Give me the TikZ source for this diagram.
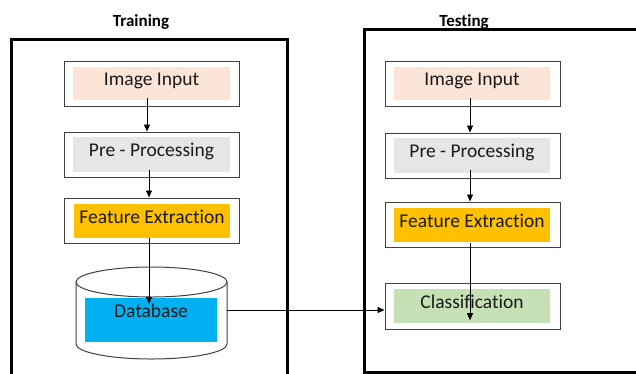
\documentclass[tikz,border=0pt]{standalone}
\usepackage{fontspec}
\setmainfont[Ligatures=NoCommon]{Carlito}
\usetikzlibrary{arrows.meta,calc}
\definecolor{peach}{HTML}{FBE5D6}
\definecolor{lgray}{HTML}{E7E6E6}
\definecolor{gold}{HTML}{FFC000}
\definecolor{skyb}{HTML}{00B0F0}
\definecolor{lgreen}{HTML}{C5E0B4}
\definecolor{boxline}{HTML}{404040}
\definecolor{txt}{HTML}{1A1A1A}
\begin{document}
\begin{tikzpicture}[x=1pt,y=1pt,yscale=-1,
  outerbox/.style={draw=boxline, line width=1pt, minimum width=175pt, minimum height=45pt, inner sep=0pt},
  innerbox/.style={inner sep=0pt, minimum width=156pt, minimum height=34pt, text height=12.5pt, text depth=8pt, font=\fontsize{19.5}{20}\selectfont, text=txt},
  arr/.style={-{Triangle[length=7pt,width=6pt]}, line width=0.9pt},
  frame/.style={line width=3pt},
  titletxt/.style={font=\bfseries\fontsize{17}{19}\selectfont, anchor=base},
  cyl/.style={draw=boxline, line width=1pt, fill=white}]
\useasboundingbox (0,0) rectangle (636,373);
\clip (0,0) rectangle (636,373);
% frames
\draw[frame] (11,39) rectangle (287,395);
\draw[frame] (364,29) rectangle (650,372);
\node[titletxt] (ttrain) at (141,26) {Training};
\node[titletxt] (ttest) at (464,26) {Testing};
% left column
\node[outerbox] (b1) at (151.5,83.5) {};
\node[innerbox, fill=peach, minimum width=157pt, minimum height=33pt] (i1) at (151.5,83.5) {Image Input};
\node[outerbox] (b2) at (151.5,154.5) {};
\node[innerbox, fill=lgray, minimum width=157pt, minimum height=35pt] (i2) at (151.5,154.5) {Pre - Processing};
\node[outerbox] (b3) at (151.5,220.5) {};
\node[innerbox, fill=gold] (i3) at (152,221) {Feature Extraction};
% cylinder
\draw[cyl] (76,282) -- (76,344) arc[start angle=180, end angle=0, x radius=75.5, y radius=15] -- (227,282) -- cycle;
\draw[cyl] (151.5,282) ellipse [x radius=75.5, y radius=15];
\coordinate (cylR) at (227,310);
\node[innerbox, fill=skyb, minimum width=132pt, minimum height=44pt, text depth=17pt] (i4) at (151,320) {Database};
% right column
\node[outerbox] (r1) at (472.5,83.5) {};
\node[innerbox, fill=peach, minimum height=33pt] (ri1) at (472,83.5) {Image Input};
\node[outerbox] (r2) at (472.5,155.5) {};
\node[innerbox, fill=lgray, minimum height=35pt] (ri2) at (472,155.5) {Pre - Processing};
\node[outerbox] (r3) at (472.5,224.5) {};
\node[innerbox, fill=gold] (ri3) at (472,225) {Feature Extraction};
\node[outerbox, minimum height=46pt] (r4) at (472.5,306) {};
\node[innerbox, fill=lgreen] (ri4) at (472,306) {Classification};
% arrows left
\draw[arr] ($(i1.south)+(-4.5,-2)$) -- ($(b2.north)+(-4.5,0)$);
\draw[arr] ($(i2.south)+(-2.5,-2)$) -- ($(b3.north)+(-2.5,0)$);
\draw[arr] ($(i3.south)+(-3,0)$) -- ($(i4.north)+(-2,6)$);
% arrows right
\draw[arr] ($(ri1.south)+(-2,-2)$) -- ($(r2.north)+(-2.5,0)$);
\draw[arr] ($(ri2.south)+(-2,-3)$) -- ($(r3.north)+(-2.5,0)$);
\draw[arr] ($(ri3.south)+(-2,1)$) -- ($(ri4.south)+(-2,-3)$);
% database to classification
\draw[arr] (cylR) -- (cylR -| r4.west);
\end{tikzpicture}
\end{document}
